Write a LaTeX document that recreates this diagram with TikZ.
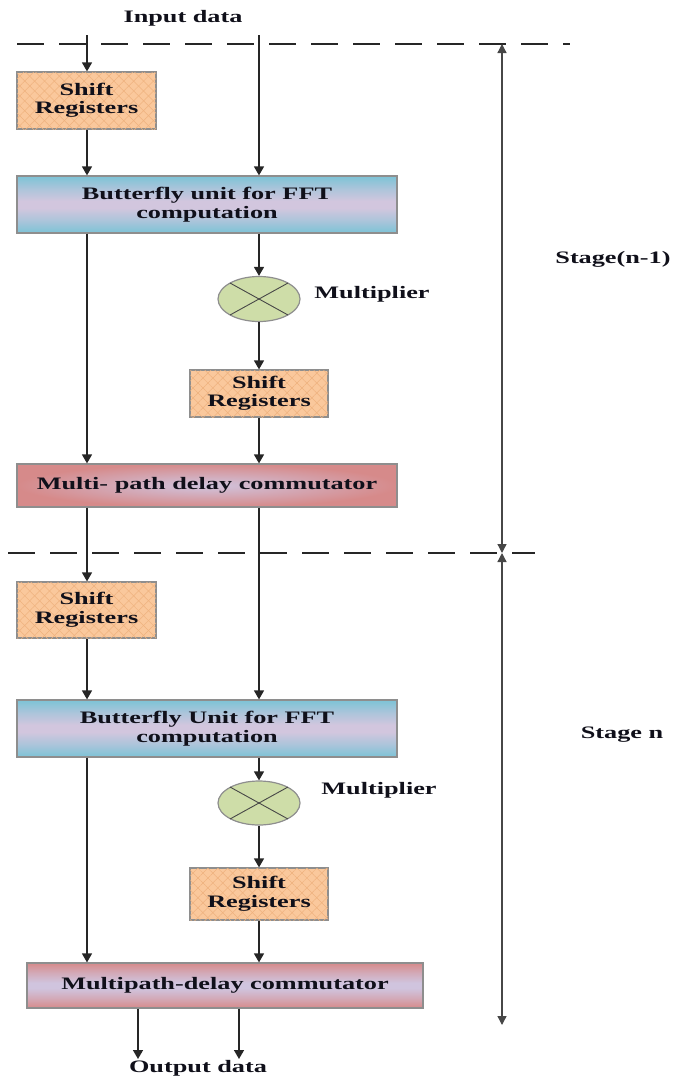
\documentclass[tikz,border=0pt]{standalone}
\usepackage{fontspec}
\newfontfamily\lblfont[FakeStretch=1.5]{Liberation Serif}
\usetikzlibrary{shapes.geometric,arrows.meta,patterns.meta}

\definecolor{inkc}{HTML}{10101A}
\definecolor{linec}{HTML}{262626}
\definecolor{edgec}{HTML}{8E8E8E}
\definecolor{srfill}{HTML}{FAC89C}
\definecolor{srhatch}{HTML}{EFB27E}
\definecolor{bfouter}{HTML}{7CC3D6}
\definecolor{bfinner}{HTML}{D2C6DE}
\definecolor{mpcouter}{HTML}{D68A8A}
\definecolor{mpcinner}{HTML}{D0C4DE}
\definecolor{mulfill}{HTML}{CEDDA8}

% vertical gradients: strong colour at top and bottom, pale band in the middle
\pgfdeclareverticalshading{bflyshade}{100bp}{color(0bp)=(bfouter); color(25bp)=(bfouter);
  color(36bp)=(bfouter!45!bfinner); color(47bp)=(bfinner); color(53bp)=(bfinner);
  color(64bp)=(bfouter!45!bfinner); color(75bp)=(bfouter); color(100bp)=(bfouter)}
\pgfdeclareverticalshading{commshade}{100bp}{color(0bp)=(mpcouter); color(25bp)=(mpcouter);
  color(36bp)=(mpcouter!45!mpcinner); color(47bp)=(mpcinner); color(53bp)=(mpcinner);
  color(64bp)=(mpcouter!45!mpcinner); color(75bp)=(mpcouter); color(100bp)=(mpcouter)}

\tikzset{
  lbl/.style={font=\lblfont\bfseries\fontsize{17.5}{18.5}\selectfont,
              text=inkc, align=center, inner sep=0pt},
  box/.style={lbl, draw=edgec, line width=1.2pt},
  shiftbox/.style={box, fill=srfill,
     postaction={pattern={Lines[angle=45,distance=7pt,line width=0.5pt]}, pattern color=srhatch},
     postaction={pattern={Lines[angle=-45,distance=7pt,line width=0.5pt]}, pattern color=srhatch}},
  bflybox/.style={box, shade, shading=bflyshade},
  commbox/.style={box, inner color=mpcinner, outer color=mpcouter},
  commboxb/.style={box, shade, shading=commshade},
  mult/.style={ellipse, draw=edgec, line width=1.2pt, fill=mulfill,
               minimum width=82pt, minimum height=45pt, inner sep=0pt},
  crossline/.style={draw=linec!85, line width=0.9pt},
  conn/.style={draw=linec, line width=1.4pt, -{Triangle[width=10pt,length=9pt]}},
  stageline/.style={draw=linec!85, line width=1.3pt,
                    {Triangle[width=9pt,length=9pt]}-{Triangle[width=9pt,length=9pt]}},
  divider/.style={draw=linec, line width=1.3pt, dash pattern=on 27pt off 15pt},
}

\begin{document}
\begin{tikzpicture}[x=1pt, y=-1pt]
  \useasboundingbox (0,0) rectangle (673,1076);

  % column positions of the two data paths
  \coordinate (colL) at (87,0);
  \coordinate (colR) at (259,0);

  % stage dividers
  \draw[divider] (17,44) -- (570,44);
  \draw[divider] (8,553) -- (535,553);

  % input
  \node[lbl] (inlbl) at (183,18) {Input data};
  \coordinate (inA) at (87,35);
  \coordinate (inB) at (259,35);

  % ---- stage n-1 ----
  \node[shiftbox, minimum width=139pt, minimum height=57pt] (sr1) at (86.5,100.5) {Shift\\Registers};
  \node[bflybox, minimum width=380pt, minimum height=57pt] (bf1) at (207,204.5) {Butterfly unit for FFT\\computation};
  \node[mult] (mul1) at (259,299) {};
  \draw[crossline] (mul1.center) ++(-29,-16) -- ++(58,32);
  \draw[crossline] (mul1.center) ++(-29,16) -- ++(58,-32);
  \node[lbl] (mul1lbl) at (372,294) {Multiplier};
  \node[shiftbox, minimum width=138pt, minimum height=47pt] (sr2) at (259,393.5) {Shift\\Registers};
  \node[commbox, minimum width=380pt, minimum height=43pt] (mpc1) at (207,485.5) {Multi- path delay commutator};

  \draw[conn] (inA) -- (inA |- sr1.north);
  \draw[conn] (inB) -- (inB |- bf1.north);
  \draw[conn] (sr1.south -| colL) -- (bf1.north -| colL);
  \draw[conn] (bf1.south -| colL) -- (mpc1.north -| colL);
  \draw[conn] (bf1.south -| colR) -- (mul1.north);
  \draw[conn] (mul1.south) -- (sr2.north);
  \draw[conn] (sr2.south) -- (mpc1.north -| colR);

  % ---- stage n ----
  \node[shiftbox, minimum width=139pt, minimum height=56pt] (sr3) at (86.5,610) {Shift\\Registers};
  \node[bflybox, minimum width=380pt, minimum height=57pt] (bf2) at (207,728.5) {Butterfly Unit for FFT\\computation};
  \node[mult, minimum height=44pt] (mul2) at (259,803) {};
  \draw[crossline] (mul2.center) ++(-29,-16) -- ++(58,32);
  \draw[crossline] (mul2.center) ++(-29,16) -- ++(58,-32);
  \node[lbl] (mul2lbl) at (379,790) {Multiplier};
  \node[shiftbox, minimum width=138pt, minimum height=52pt] (sr4) at (259,894) {Shift\\Registers};
  \node[commboxb, minimum width=396pt, minimum height=45pt] (mpc2) at (225,985.5) {Multipath-delay commutator};

  \draw[conn] (mpc1.south -| colL) -- (sr3.north -| colL);
  \draw[conn] (mpc1.south -| colR) -- (bf2.north -| colR);
  \draw[conn] (sr3.south -| colL) -- (bf2.north -| colL);
  \draw[conn] (bf2.south -| colL) -- (mpc2.north -| colL);
  \draw[conn] (bf2.south -| colR) -- (mul2.north);
  \draw[conn] (mul2.south) -- (sr4.north);
  \draw[conn] (sr4.south) -- (mpc2.north -| colR);

  % output
  \coordinate (outA) at (138,1059);
  \coordinate (outB) at (239,1059);
  \draw[conn] (mpc2.south -| outA) -- (outA);
  \draw[conn] (mpc2.south -| outB) -- (outB);
  \node[lbl, anchor=base] (outlbl) at (198,1072) {Output data};

  % stage extents
  \coordinate (dTop) at (502,44);
  \coordinate (dMid) at (502,553);
  \coordinate (dBot) at (502,1025);
  \draw[stageline] (dTop) -- (dMid);
  \draw[stageline] (dMid) -- (dBot);
  \node[lbl] (stg1) at (613,259) {Stage(n-1)};
  \node[lbl] (stg2) at (622,735) {Stage n};
\end{tikzpicture}
\end{document}
